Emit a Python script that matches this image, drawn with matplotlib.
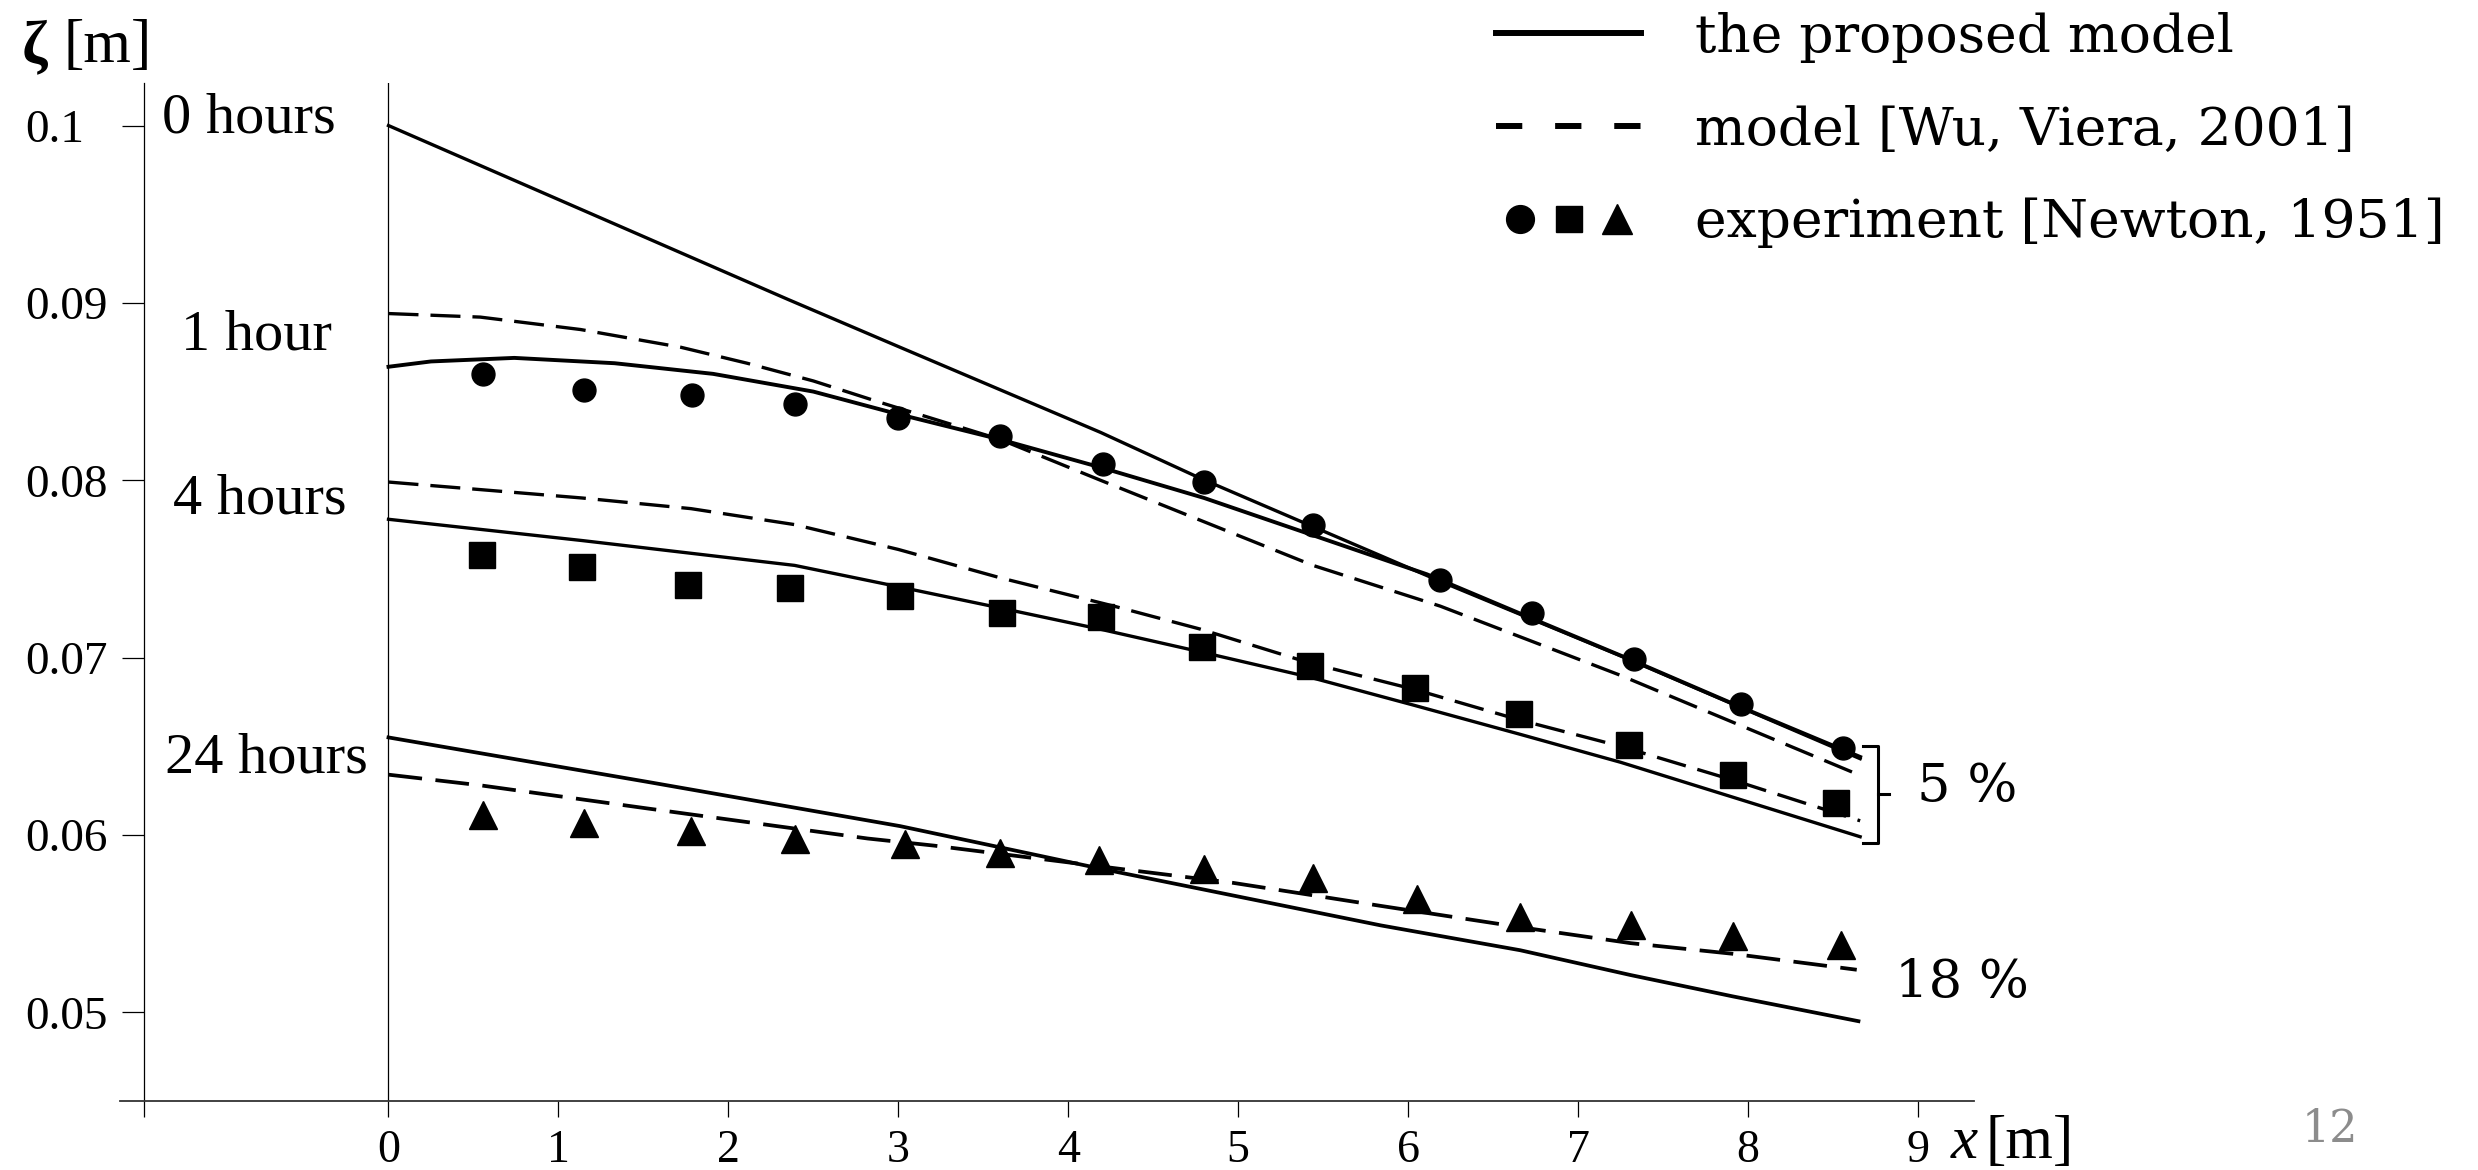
import matplotlib.pyplot as plt
from matplotlib.lines import Line2D
from matplotlib.legend_handler import HandlerTuple

plt.rcParams['font.family'] = ['Liberation Serif', 'DejaVu Serif']

#====================DATA====================

# model curves, the proposed model (solid)
x_0h = [0, 2.35, 3.01, 4.19, 4.78, 6.19, 7.25, 8.66]
y_0h = [0.1, 0.0902, 0.0875, 0.0827, 0.0801, 0.0743, 0.0701, 0.0643]

x_1h = [0, 0.25, 0.74, 1.33, 1.91, 2.50, 2.97, 3.6, 4.2, 4.8, 5.44, 6.11, 6.73, 7.33, 7.96, 8.66]
y_1h = [0.0864, 0.0867, 0.0869, 0.0866, 0.0860, 0.0850, 0.0838, 0.0823, 0.0807, 0.0790,
        0.0769, 0.0747, 0.0722, 0.0698, 0.0672, 0.0644]

x_4h = [0, 1.14, 2.39, 3.0, 3.6, 4.19, 4.79, 5.42, 6.04, 6.65, 7.25, 8.66]
y_4h = [0.0778, 0.0766, 0.0752, 0.0740, 0.0728, 0.0716, 0.0703, 0.0689, 0.0673, 0.0657, 0.0641, 0.0599]

x_24h = [0, 1.52, 3.01, 4.19, 5.84, 6.66, 7.31, 7.91, 8.65]
y_24h = [0.0655, 0.0630, 0.0605, 0.0581, 0.0549, 0.0535, 0.0521, 0.0509, 0.0495]

# model [Wu, Viera, 2001] (dashed)
x_1h_wu = [0, 0.54, 1.13, 1.72, 2.11, 2.5, 2.89, 3.6, 4.19, 5.44, 6.19, 7.25, 8.65]
y_1h_wu = [0.0894, 0.0892, 0.0885, 0.0875, 0.0866, 0.0856, 0.0844, 0.0823, 0.0800, 0.0752, 0.0729,
           0.0690, 0.0634]

x_4h_wu = [0, 1.14, 1.78, 2.39, 3.0, 3.6, 4.27, 4.78, 5.42, 6.04, 6.65, 7.25, 7.91, 8.66]
y_4h_wu = [0.0799, 0.0790, 0.0784, 0.0775, 0.0761, 0.0745, 0.0729, 0.0716, 0.0697, 0.0682, 0.0665,
           0.0650, 0.0631, 0.0608]

x_24h_wu = [0, 0.54, 1.52, 2.82, 3.21, 4.38, 4.97, 5.84, 6.66, 7.31, 7.91, 8.64]
y_24h_wu = [0.0634, 0.0628, 0.0615, 0.0598, 0.0594, 0.0580, 0.0573, 0.0560, 0.0548, 0.0539, 0.0533, 0.0524]

# experiment [Newton, 1951]
x_circ = [0.555, 1.15, 1.787, 2.39, 3.0, 3.6, 4.205, 4.8, 5.44, 6.19, 6.73, 7.33, 7.96, 8.56]
y_circ = [0.0860, 0.0851, 0.0848, 0.0843, 0.0835, 0.0825, 0.0809, 0.0799, 0.0775, 0.0744,
          0.0725, 0.0699, 0.0674, 0.0649]
x_sq = [0.553, 1.14, 1.765, 2.363, 3.008, 3.609, 4.19, 4.79, 5.42, 6.04, 6.65, 7.30, 7.91, 8.52]
y_sq = [0.0758, 0.0751, 0.0741, 0.0739, 0.0735, 0.0725, 0.0723, 0.0706, 0.0695, 0.0683,
        0.0668, 0.0651, 0.0634, 0.0618]
x_tri = [0.557, 1.153, 1.78, 2.39, 3.04, 3.60, 4.18, 4.80, 5.44, 6.05, 6.66, 7.31, 7.91, 8.55]
y_tri = [0.0611, 0.0607, 0.0602, 0.0598, 0.0595, 0.0590, 0.0586, 0.0581, 0.0576, 0.0564,
         0.0554, 0.0549, 0.0543, 0.0538]

y_ticks = [0.05, 0.06, 0.07, 0.08, 0.09, 0.1]
y_tick_labels = ["0.05", "0.06", "0.07", "0.08", "0.09", "0.1"]
x_ticks = [0, 1, 2, 3, 4, 5, 6, 7, 8, 9]

hour_labels = ["0 hours", "1 hour", "4 hours", "24 hours"]
legend_labels = ["the proposed model", "model [Wu, Viera, 2001]", "experiment [Newton, 1951]"]

#====================FIGURE====================

W, H = 2478, 1170
fig = plt.figure(figsize=(W / 100, H / 100), dpi=100)
ax = fig.add_axes([120 / W, 1 - 1101 / H, (1974 - 120) / W, (1101 - 83) / H])
ax.set_xlim(-1.58, 9.33)
ax.set_ylim(0.045, 0.1024)

lw = 2.4
dash = (0, (9, 3.6))

ax.plot(x_0h, y_0h, color="black", lw=lw)
ax.plot(x_1h, y_1h, color="black", lw=lw + 0.4)
ax.plot(x_4h, y_4h, color="black", lw=lw)
ax.plot(x_24h, y_24h, color="black", lw=lw + 0.3)
ax.plot(x_1h_wu, y_1h_wu, color="black", lw=lw, ls=dash)
ax.plot(x_4h_wu, y_4h_wu, color="black", lw=lw, ls=dash)
ax.plot(x_24h_wu, y_24h_wu, color="black", lw=lw + 0.3, ls=dash)

ax.plot(x_circ, y_circ, ls="none", marker="o", ms=16.5, color="black")
ax.plot(x_sq, y_sq, ls="none", marker="s", ms=18.5, color="black")
ax.plot(x_tri, y_tri, ls="none", marker="^", ms=19.5, color="black")

# axes
ax.axvline(0, color="black", lw=0.9)
for side in ["top", "right"]:
    ax.spines[side].set_visible(False)
ax.spines["left"].set_position(("data", -1.44))
ax.spines["left"].set_linewidth(0.9)
ax.spines["bottom"].set_linewidth(1.3)
ax.spines["bottom"].set_color("#333333")

ax.set_yticks(y_ticks)
ax.set_yticklabels(y_tick_labels)
ax.set_xticks([-1.44] + x_ticks)
ax.set_xticklabels([""] + [str(v) for v in x_ticks])
ax.tick_params(axis="y", direction="out", length=16, width=0.9, pad=69, labelsize=34)
ax.tick_params(axis="x", direction="out", length=11.5, width=0.9, pad=9, labelsize=33)
for lab in ax.get_yticklabels():
    lab.set_horizontalalignment("left")

# hour labels
hour_pos = [(-0.82, 0.0996), (-0.78, 0.0874), (-0.76, 0.0781), (-0.72, 0.0635)]
for txt, (hx, hy) in zip(hour_labels, hour_pos):
    ax.text(hx, hy, txt, fontsize=42, ha="center", va="baseline")

# axis titles
fig.text(22 / W, 1 - 62 / H, "ζ", fontsize=44, fontweight="bold", ha="left", va="baseline")
fig.text(63 / W, 1 - 62 / H, "[m]", fontsize=44, ha="left", va="baseline")
fig.text(1951 / W, 1 - 1158 / H, "x", fontsize=44, style="italic", ha="left", va="baseline")
fig.text(1986 / W, 1 - 1158 / H, "[m]", fontsize=44, ha="left", va="baseline")

# bracket and percentages
bx0, bx1, btip = 8.676, 8.765, 8.829
by_top, by_bot, by_mid = 0.06499, 0.05953, 0.06229
ax.plot([bx0, bx1, bx1, bx0], [by_top, by_top, by_bot, by_bot], color="black", lw=2.2,
        clip_on=False, solid_joinstyle="round")
ax.plot([bx1, btip], [by_mid, by_mid], color="black", lw=2.2, clip_on=False)
ax.text(9.29, 0.06274, "5 %", family="DejaVu Serif", fontsize=38, ha="center", va="center")
ax.text(9.26, 0.05169, "18 %", family="DejaVu Serif", fontsize=38, ha="center", va="center")

# page number
fig.text(2330 / W, 1 - 1129 / H, "12", family="DejaVu Serif", fontsize=32, color="#8c8c8c",
         ha="center", va="center")

# legend
h_solid = Line2D([], [], color="black", lw=4.3)
h_dash = Line2D([], [], color="black", lw=4.3, ls=(0, (4.4, 5.5)))
h_c = Line2D([], [], ls="none", marker="o", ms=20, color="black")
h_s = Line2D([], [], ls="none", marker="s", ms=19, color="black")
h_t = Line2D([], [], ls="none", marker="^", ms=21, color="black")
fig.legend([h_solid, h_dash, (h_c, h_s, h_t)], legend_labels,
           handler_map={tuple: HandlerTuple(ndivide=None, pad=0)},
           loc="upper left", bbox_to_anchor=(1496 / W, 1 - 12 / H),
           frameon=False, borderpad=0, borderaxespad=0, numpoints=1,
           handlelength=2.72, handletextpad=1.0, labelspacing=0.78,
           prop={"family": "DejaVu Serif", "size": 38.5})

plt.savefig("out.png", dpi=100)
